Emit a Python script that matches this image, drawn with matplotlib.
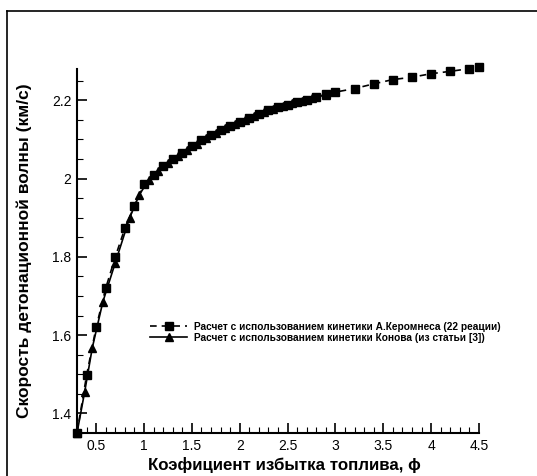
import matplotlib
matplotlib.use("Agg")
import matplotlib.pyplot as plt
from matplotlib.lines import Line2D
from matplotlib.ticker import MultipleLocator

plt.rcParams['font.family'] = ['Liberation Sans', 'DejaVu Sans']

# Keromnes kinetics (22 reactions) - squares, dashed
phi_k = [0.3, 0.4, 0.5, 0.6, 0.7, 0.8, 0.9, 1.0, 1.1, 1.2, 1.3, 1.4, 1.5, 1.6,
         1.7, 1.8, 1.9, 2.0, 2.1, 2.2, 2.3, 2.4, 2.5, 2.6, 2.7, 2.8, 2.9, 3.0,
         3.2, 3.4, 3.6, 3.8, 4.0, 4.2, 4.4, 4.5]
d_k = [1.350, 1.497, 1.620, 1.720, 1.800, 1.873, 1.930, 1.985, 2.010, 2.032,
       2.050, 2.065, 2.082, 2.098, 2.112, 2.124, 2.135, 2.145, 2.155, 2.165,
       2.174, 2.182, 2.189, 2.196, 2.202, 2.209, 2.215, 2.221,
       2.230, 2.242, 2.253, 2.259, 2.268, 2.274, 2.281, 2.284]

# Konov kinetics - triangles, solid
phi_c = [0.3, 0.38, 0.46, 0.57, 0.70, 0.85, 0.95, 1.05, 1.15, 1.25, 1.35, 1.45,
         1.55, 1.65, 1.75, 1.85, 1.95, 2.05, 2.15, 2.25, 2.35, 2.45, 2.55, 2.65,
         2.75, 2.9]
d_c = [1.350, 1.455, 1.568, 1.685, 1.785, 1.900, 1.958, 1.997, 2.020, 2.040,
       2.057, 2.073, 2.089, 2.104, 2.117, 2.129, 2.139, 2.149, 2.159, 2.169,
       2.177, 2.185, 2.192, 2.199, 2.205, 2.214]

label_k = "Расчет с использованием кинетики А.Керомнеса (22 реации)"
label_c = "Расчет с использованием кинетики Конова (из статьи [3])"

fig = plt.figure(figsize=(5.37, 4.76), dpi=100)
ax = fig.add_axes([77/537, 43/476, 402/537, 364/476])

ax.plot(phi_k, d_k, color='black', linestyle=(0, (4, 3)), linewidth=1.2,
        marker='s', markersize=6, label=label_k, clip_on=False)
ax.plot(phi_c, d_c, color='black', linestyle='-', linewidth=1.2,
        marker='^', markersize=6, label=label_c, clip_on=False)

ax.set_xlim(0.3, 4.5)
ax.set_ylim(1.35, 2.28)
ax.xaxis.set_minor_locator(MultipleLocator(0.1))
ax.yaxis.set_minor_locator(MultipleLocator(0.05))
ax.set_xticks([0.5, 1, 1.5, 2, 2.5, 3, 3.5, 4, 4.5])
ax.set_xticklabels(['0.5', '1', '1.5', '2', '2.5', '3', '3.5', '4', '4.5'])
ax.set_yticks([1.4, 1.6, 1.8, 2.0, 2.2])
ax.set_yticklabels(['1.4', '1.6', '1.8', '2', '2.2'])

ax.tick_params(which='major', direction='in', length=7, width=1.2, labelsize=10, pad=4)
ax.tick_params(which='minor', direction='in', length=4, width=0.8)
for s in ['top', 'right']:
    ax.spines[s].set_visible(False)
for s in ['left', 'bottom']:
    ax.spines[s].set_linewidth(1.5)

ax.set_xlabel("Коэфициент избытка топлива, ϕ", fontsize=12.2, fontweight='bold')
ax.xaxis.set_label_coords(0.515, -0.065)
ax.set_ylabel("Скорость детонационной волны (км/с)", fontsize=12.5, fontweight='bold', labelpad=14)

ax.legend(loc='upper left', bbox_to_anchor=(0.16, 0.33), frameon=False,
          prop={'size': 7.3, 'weight': 'bold'}, handlelength=3.6,
          handletextpad=0.7, labelspacing=0.1)

# outer frame
fig.add_artist(Line2D([7/537, 1], [1 - 11/476, 1 - 11/476], color='black', linewidth=1.2))
fig.add_artist(Line2D([7/537, 7/537], [0, 1 - 11/476], color='black', linewidth=1.2))

fig.savefig("out.png", dpi=100)
